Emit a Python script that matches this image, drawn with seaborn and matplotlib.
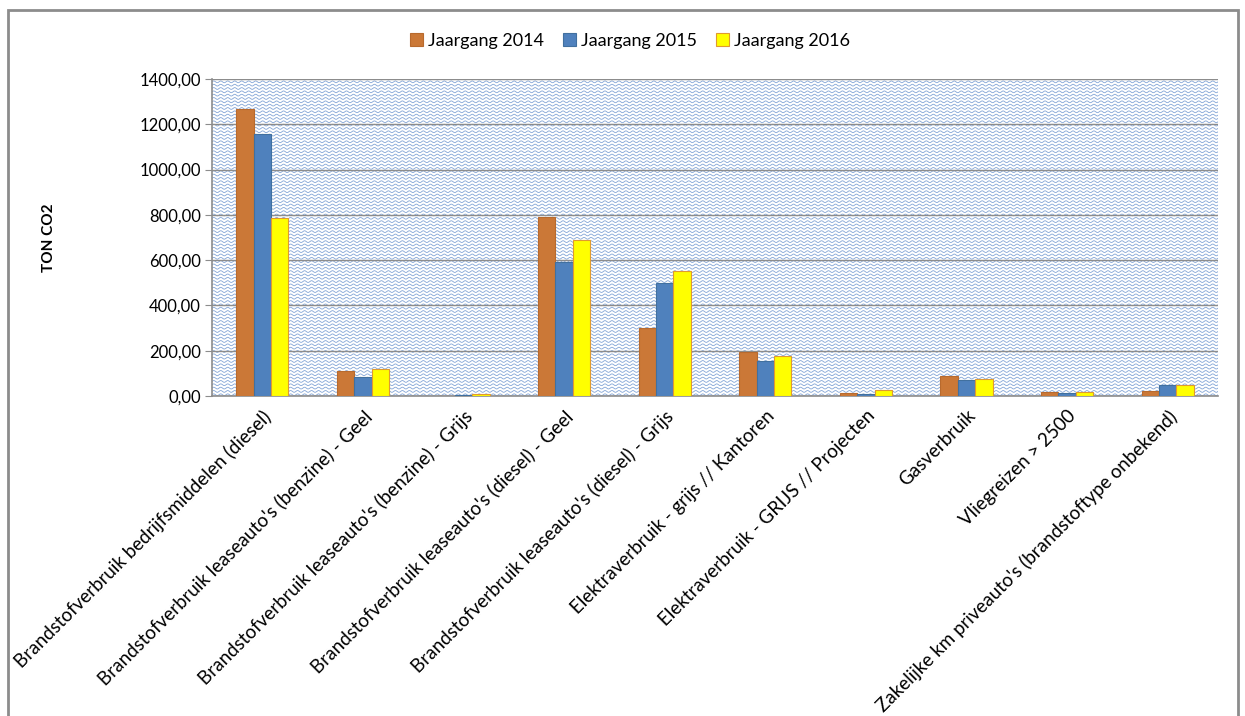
import matplotlib
matplotlib.use("Agg")
import matplotlib.pyplot as plt
import numpy as np
import pandas as pd
import seaborn as sns
from matplotlib.patches import Rectangle
from matplotlib.ticker import FuncFormatter

# Data
categories = [
    "Brandstofverbruik bedrijfsmiddelen (diesel)",
    "Brandstofverbruik leaseauto's (benzine) - Geel",
    "Brandstofverbruik leaseauto's (benzine) - Grijs",
    "Brandstofverbruik leaseauto's (diesel) - Geel",
    "Brandstofverbruik leaseauto's (diesel) - Grijs",
    "Elektraverbruik - grijs // Kantoren",
    "Elektraverbruik - GRIJS // Projecten",
    "Gasverbruik",
    "Vliegreizen > 2500",
    "Zakelijke km priveauto's (brandstoftype onbekend)",
]
series = ["Jaargang 2014", "Jaargang 2015", "Jaargang 2016"]
values_2014 = [1267, 110, 0, 790, 300, 196, 13, 88, 18, 22]
values_2015 = [1157, 84, 4, 592, 499, 155, 8, 70, 12, 48]
values_2016 = [786, 119, 9, 689, 552, 177, 27, 75, 16, 47]

colors = ["#CB7837", "#4F81BD", "#FFFF00"]
edges = ["#B86A2E", "#41709F", "#E09A30"]

df = pd.DataFrame({
    "categorie": categories * 3,
    "jaargang": [s for s in series for _ in categories],
    "ton": values_2014 + values_2015 + values_2016,
})

plt.rcParams["font.family"] = ["Lato", "DejaVu Sans"]

fig = plt.figure(figsize=(12.45, 7.16), dpi=100)
ax = fig.add_axes([0.1703, 0.4469, 0.808, 0.4428])

# wavy pattern background of the plot area
xs = np.linspace(0, 1, 3000)
for y0 in np.arange(0.004, 1.0, 0.0105):
    ax.plot(xs, y0 + 0.0028 * np.sin(2 * np.pi * 144 * xs), transform=ax.transAxes,
            color="#6d95cf", lw=0.6, alpha=0.85, zorder=0)

sns.barplot(data=df, x="categorie", y="ton", hue="jaargang", order=categories,
            hue_order=series, palette=colors, saturation=1, width=0.52, ax=ax,
            zorder=3, linewidth=0.8, legend=False)
for i, cont in enumerate(ax.containers):
    for bar in cont:
        bar.set_edgecolor(edges[i])

ax.set_ylim(0, 1400)
ax.set_yticks(range(0, 1401, 200))
ax.yaxis.set_major_formatter(FuncFormatter(lambda v, p: f"{v:.2f}".replace(".", ",")))
ax.grid(axis="y", color="#8c8c8c", lw=1)
for g in ax.get_ygridlines():
    g.set_zorder(1)
ax.set_xlim(-0.5, len(categories) - 0.5)
ax.set_facecolor("white")

for s in ["top", "right"]:
    ax.spines[s].set_visible(False)
for s in ["left", "bottom"]:
    ax.spines[s].set_color("#8c8c8c")
    ax.spines[s].set_linewidth(1.2)
ax.tick_params(axis="y", length=5, color="#8c8c8c", labelsize=12, pad=3)
ax.tick_params(axis="x", length=0, labelsize=13.5, pad=8)
plt.setp(ax.get_xticklabels(), rotation=45, ha="right", rotation_mode="anchor")

ax.set_xlabel("")
ax.set_ylabel("TON CO2", fontsize=11, fontweight="bold", labelpad=60)

handles = [Rectangle((0, 0), 1, 1, facecolor=c, edgecolor=e, lw=0.8)
           for c, e in zip(colors, edges)]
fig.legend(handles, series, loc="center", bbox_to_anchor=(0.506, 0.943), ncol=3,
           frameon=False, fontsize=13, handlelength=0.7, handleheight=0.7,
           handletextpad=0.25, columnspacing=1.1)

# chart border
fig.patches.append(Rectangle((8 / 1245, -0.05), 1230 / 1245, 1.05 - 10 / 716,
                             transform=fig.transFigure, fill=False,
                             edgecolor="#8c8c8c", lw=2))

fig.savefig("out.png", dpi=100)
